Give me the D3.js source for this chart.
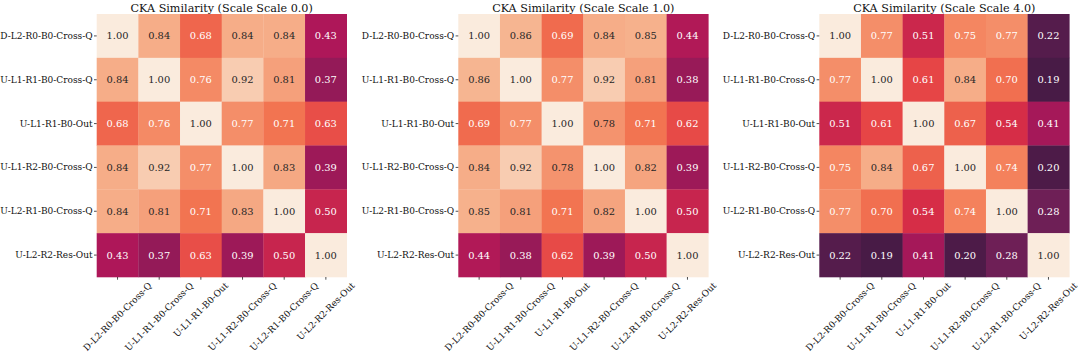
<!DOCTYPE html>
<html>
<head>
<meta charset="utf-8">
<script src="https://cdn.jsdelivr.net/npm/d3@7"></script>
<style>
  html, body { margin: 0; padding: 0; background: #ffffff; }
  svg { display: block; }
  text { font-family: "DejaVu Serif", serif; }
</style>
</head>
<body>
<svg id="chart" width="1080" height="354"></svg>
<script>
// ---------- data ----------
const labels = [
  "D-L2-R0-B0-Cross-Q",
  "U-L1-R1-B0-Cross-Q",
  "U-L1-R1-B0-Out",
  "U-L1-R2-B0-Cross-Q",
  "U-L2-R1-B0-Cross-Q",
  "U-L2-R2-Res-Out"
];

const titles = [
  "CKA Similarity (Scale Scale 0.0)",
  "CKA Similarity (Scale Scale 1.0)",
  "CKA Similarity (Scale Scale 4.0)"
];

const scale0 = [
  [1.00, 0.84, 0.68, 0.84, 0.84, 0.43],
  [0.84, 1.00, 0.76, 0.92, 0.81, 0.37],
  [0.68, 0.76, 1.00, 0.77, 0.71, 0.63],
  [0.84, 0.92, 0.77, 1.00, 0.83, 0.39],
  [0.84, 0.81, 0.71, 0.83, 1.00, 0.50],
  [0.43, 0.37, 0.63, 0.39, 0.50, 1.00]
];

const scale1 = [
  [1.00, 0.86, 0.69, 0.84, 0.85, 0.44],
  [0.86, 1.00, 0.77, 0.92, 0.81, 0.38],
  [0.69, 0.77, 1.00, 0.78, 0.71, 0.62],
  [0.84, 0.92, 0.78, 1.00, 0.82, 0.39],
  [0.85, 0.81, 0.71, 0.82, 1.00, 0.50],
  [0.44, 0.38, 0.62, 0.39, 0.50, 1.00]
];

const scale4 = [
  [1.00, 0.77, 0.51, 0.75, 0.77, 0.22],
  [0.77, 1.00, 0.61, 0.84, 0.70, 0.19],
  [0.51, 0.61, 1.00, 0.67, 0.54, 0.41],
  [0.75, 0.84, 0.67, 1.00, 0.74, 0.20],
  [0.77, 0.70, 0.54, 0.74, 1.00, 0.28],
  [0.22, 0.19, 0.41, 0.20, 0.28, 1.00]
];

const matrices = [scale0, scale1, scale4];

// seaborn "rocket" colormap stops
const rocketStops = ["#03051a", "#35193e", "#701f57", "#ad1759", "#e13342", "#f37651", "#f6b48f", "#faebdd"];

// ---------- layout ----------
const panelLeft = [96.7, 458.3, 819.3];
const panelW = 250;
const panelTop = 14;
const panelH = 263;

const svg = d3.select("#chart");

const rocket = d3.scaleLinear()
  .domain(d3.range(rocketStops.length).map(i => i / (rocketStops.length - 1)))
  .range(rocketStops)
  .interpolate(d3.interpolateRgb)
  .clamp(true);
const color = v => rocket(v); // vmin 0, vmax 1

function relLum(c) {
  const rgb = d3.rgb(c);
  const f = x => { x /= 255; return x <= 0.03928 ? x / 12.92 : Math.pow((x + 0.055) / 1.055, 2.4); };
  return 0.2126 * f(rgb.r) + 0.7152 * f(rgb.g) + 0.0722 * f(rgb.b);
}

matrices.forEach((mat, p) => {
  const g = svg.append("g");
  const x = d3.scaleBand().domain(labels).range([panelLeft[p], panelLeft[p] + panelW]);
  const y = d3.scaleBand().domain(labels).range([panelTop, panelTop + panelH]);

  const cells = [];
  mat.forEach((row, i) => row.forEach((v, j) => cells.push({ r: labels[i], c: labels[j], v })));

  g.selectAll("rect.cell").data(cells).enter().append("rect")
    .attr("class", "cell")
    .attr("x", d => x(d.c))
    .attr("y", d => y(d.r))
    .attr("width", x.bandwidth() + 0.3)
    .attr("height", y.bandwidth() + 0.3)
    .attr("fill", d => color(d.v));

  g.selectAll("text.annot").data(cells).enter().append("text")
    .attr("class", "annot")
    .attr("x", d => x(d.c) + x.bandwidth() / 2)
    .attr("y", d => y(d.r) + y.bandwidth() / 2)
    .attr("text-anchor", "middle")
    .attr("dominant-baseline", "central")
    .attr("font-size", "9.9px")
    .attr("fill", d => relLum(color(d.v)) > 0.408 ? "#262626" : "#ffffff")
    .text(d => d.v.toFixed(2));

  // y axis
  const yAxis = d3.axisLeft(y).tickSize(2.7).tickPadding(1.4);
  const ya = g.append("g").attr("transform", `translate(${panelLeft[p]},0)`).call(yAxis);
  ya.select(".domain").remove();
  ya.selectAll(".tick line").attr("stroke", "#222").attr("stroke-width", 0.8);
  ya.selectAll(".tick text")
    .attr("font-family", "DejaVu Serif, serif")
    .attr("font-size", "9px")
    .attr("fill", "#111")
    .attr("dy", null)
    .attr("dominant-baseline", "central");

  // x axis
  const xAxis = d3.axisBottom(x).tickSize(2.7).tickPadding(0);
  const xa = g.append("g").attr("transform", `translate(0,${panelTop + panelH})`).call(xAxis);
  xa.select(".domain").remove();
  xa.selectAll(".tick line").attr("stroke", "#222").attr("stroke-width", 0.8);
  xa.selectAll(".tick text")
    .attr("font-family", "DejaVu Serif, serif")
    .attr("font-size", "9px")
    .attr("fill", "#111")
    .attr("dy", null)
    .attr("y", null)
    .attr("text-anchor", "middle")
    .attr("dominant-baseline", "central")
    .each(function () {
      const w = this.getComputedTextLength();
      const h = 10;
      const half = (w + h) * Math.SQRT1_2 / 2;
      d3.select(this).attr("transform", `translate(0,${3.5 + half}) rotate(-45)`);
    });

  // title
  g.append("text")
    .attr("x", panelLeft[p] + panelW / 2)
    .attr("y", 11.5)
    .attr("text-anchor", "middle")
    .attr("font-size", "11.2px")
    .attr("fill", "#111")
    .text(titles[p]);
});
</script>
</body>
</html>
